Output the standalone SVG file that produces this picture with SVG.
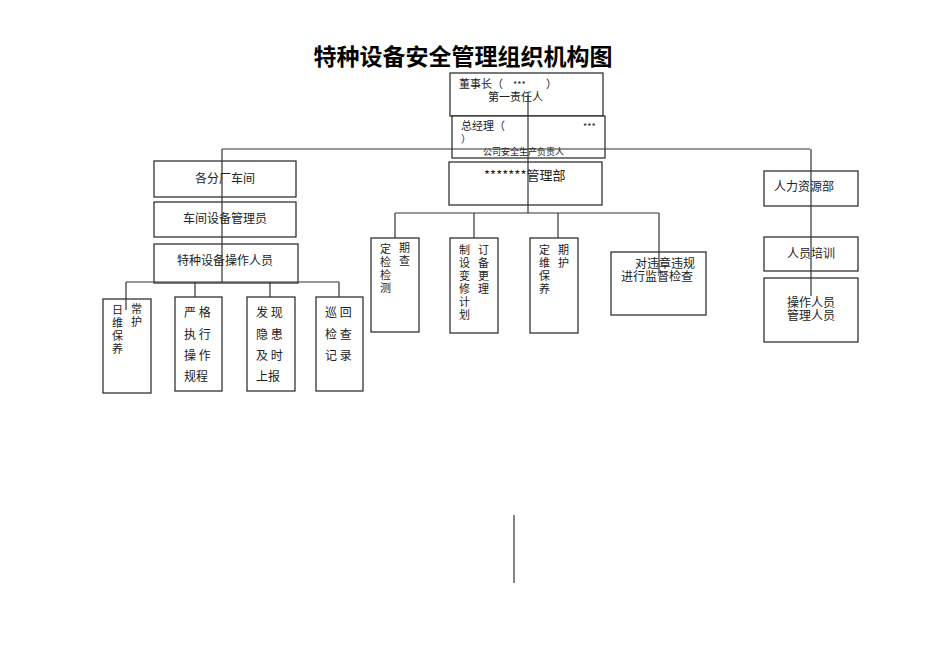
<svg xmlns="http://www.w3.org/2000/svg" width="950" height="672" viewBox="0 0 950 672">
<style>
rect{fill:#fff;stroke:#222;stroke-width:1.2}
line{stroke:#333;stroke-width:1.2}
text{font-family:"Noto Sans CJK SC","Liberation Serif",serif;font-size:12px;fill:#222}
.v{font-size:11px}
</style>
<rect x="0" y="0" width="950" height="672" style="stroke:none"/>
<text x="463" y="65" text-anchor="middle" style="font-size:23px;font-weight:bold;fill:#000">特种设备安全管理组织机构图</text>
<g id="n-chair"><rect x="450" y="73" width="153" height="43"/><text x="459" y="88" style="font-size:11px">董事长（</text><text x="513" y="88" style="font-size:9px">***</text><text x="546" y="88" style="font-size:11px">）</text><text x="488" y="101" style="font-size:11px">第一责任人</text></g>
<g id="n-gm"><rect x="452" y="116" width="153" height="42"/><text x="461" y="130" style="font-size:11px">总经理（</text><text x="583" y="130" style="font-size:9px">***</text><text x="461" y="143" style="font-size:10px">）</text><text x="483" y="155" style="font-size:9px">公司安全生产负责人</text></g>
<g id="n-dept"><rect x="449" y="162" width="153" height="43"/><text x="484" y="180" style="font-size:13px">*******管理部</text></g>
<g id="n-ws"><rect x="154" y="161" width="142" height="36"/><text x="225" y="183" text-anchor="middle">各分厂车间</text></g>
<g id="n-wsm"><rect x="154" y="202" width="142" height="35"/><text x="225" y="223" text-anchor="middle">车间设备管理员</text></g>
<g id="n-op"><rect x="154" y="244" width="144" height="39"/><text x="225" y="265" text-anchor="middle">特种设备操作人员</text></g>
<g id="n-b1" class="v"><rect x="103" y="299" width="48" height="94"/><text class="v" x="112" y="314">日</text><text class="v" x="112" y="327">维</text><text class="v" x="112" y="340">保</text><text class="v" x="112" y="353">养</text><text class="v" x="131" y="313">常</text><text class="v" x="131" y="326">护</text></g>
<g id="n-b2"><rect x="175" y="297" width="47" height="94"/><text x="184" y="317">严 格</text><text x="184" y="339">执 行</text><text x="184" y="360">操 作</text><text x="184" y="381">规程</text></g>
<g id="n-b3"><rect x="247" y="297" width="48" height="94"/><text x="256" y="317">发 现</text><text x="256" y="339">隐 患</text><text x="256" y="360">及 时</text><text x="256" y="381">上报</text></g>
<g id="n-b4"><rect x="316" y="297" width="47" height="94"/><text x="325" y="317">巡 回</text><text x="325" y="339">检 查</text><text x="325" y="360">记 录</text></g>
<g id="n-d1"><rect x="371" y="238" width="48" height="94"/><text class="v" x="380" y="253">定</text><text class="v" x="380" y="266">检</text><text class="v" x="380" y="279">检</text><text class="v" x="380" y="292">测</text><text class="v" x="399" y="252">期</text><text class="v" x="399" y="265">查</text></g>
<g id="n-d2"><rect x="450" y="238" width="48" height="95"/><text class="v" x="459" y="254">制</text><text class="v" x="459" y="267">设</text><text class="v" x="459" y="280">变</text><text class="v" x="459" y="293">修</text><text class="v" x="459" y="306">计</text><text class="v" x="459" y="319">划</text><text class="v" x="478" y="254">订</text><text class="v" x="478" y="267">备</text><text class="v" x="478" y="280">更</text><text class="v" x="478" y="293">理</text></g>
<g id="n-d3"><rect x="530" y="238" width="48" height="95"/><text class="v" x="539" y="254">定</text><text class="v" x="539" y="267">维</text><text class="v" x="539" y="280">保</text><text class="v" x="539" y="293">养</text><text class="v" x="558" y="254">期</text><text class="v" x="558" y="267">护</text></g>
<g id="n-d4"><rect x="611" y="252" width="95" height="63"/><text x="635" y="268">对违章违规</text><text x="621" y="281">进行监督检查</text></g>
<g id="n-hr"><rect x="764" y="171" width="94" height="35"/><text x="774" y="191">人力资源部</text></g>
<g id="n-tr"><rect x="764" y="237" width="94" height="34"/><text x="811" y="258" text-anchor="middle">人员培训</text></g>
<g id="n-st"><rect x="764" y="278" width="94" height="64"/><text x="811" y="307" text-anchor="middle">操作人员</text><text x="811" y="320" text-anchor="middle">管理人员</text></g>
<g id="connectors">
<line x1="222" y1="149" x2="810" y2="149"/>
<line x1="528" y1="95" x2="528" y2="213"/>
<line x1="222" y1="149" x2="222" y2="282"/>
<line x1="126" y1="282" x2="339" y2="282"/>
<line x1="126" y1="282" x2="126" y2="310"/>
<line x1="195" y1="282" x2="195" y2="297"/>
<line x1="270" y1="282" x2="270" y2="297"/>
<line x1="339" y1="282" x2="339" y2="297"/>
<line x1="395" y1="213" x2="659" y2="213"/>
<line x1="395" y1="213" x2="395" y2="238"/>
<line x1="474" y1="213" x2="474" y2="238"/>
<line x1="558" y1="213" x2="558" y2="238"/>
<line x1="659" y1="213" x2="659" y2="272"/>
<line x1="811" y1="149" x2="811" y2="296"/>
<line x1="514" y1="515" x2="514" y2="583"/>
</g>
</svg>
